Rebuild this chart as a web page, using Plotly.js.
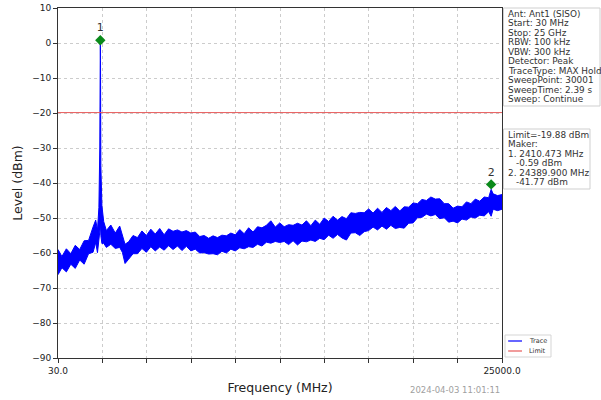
<!DOCTYPE html>
<html>
<head>
<meta charset="utf-8">
<script src="https://cdn.plot.ly/plotly-3.0.1.min.js"></script>
<style>html,body{margin:0;padding:0;background:#fff;}#chart{width:601px;height:400px;}</style>
</head>
<body>
<div id="chart"></div>
<script>
// Spectrum envelope (MHz, dBm): upper and lower edge of the trace band
const freqMHz = [30,250,500,750,1000,1250,1500,1750,2000,2150,2250,2330,2380,2400,2410.473,2420,2440,2500,2600,2750,
  3000,3250,3500,3650,3800,4000,4250,4500,4750,5000,5250,5500,5750,6000,6250,6500,6750,7000,7250,7500,
  7750,8000,8250,8500,8750,9000,9250,9500,9750,10000,10250,10500,10750,11000,11250,11500,11750,12000,12250,12500,
  12750,13000,13250,13500,13750,14000,14250,14500,14750,15000,15250,15500,15750,16000,16250,16500,16750,17000,17250,17500,
  17750,18000,18250,18500,18750,19000,19250,19500,19750,20000,20250,20500,20750,21000,21250,21500,21750,22000,22250,22500,
  22750,23000,23250,23500,23750,24000,24250,24389.9,24500,24750,25000];
const upperDbm = [-59.0,-61.0,-58.8,-60.2,-57.8,-59.0,-56.5,-56.4,-52.6,-50.6,-53.5,-47.0,-30.0,-5.0,0.8,-5.0,-35.0,-46.5,-51.0,-53.6,
  -52.0,-54.3,-52.3,-55.0,-57.5,-56.8,-55.0,-55.6,-53.7,-55.0,-53.2,-54.6,-53.0,-54.8,-53.1,-53.8,-53.4,-54.0,-53.6,-54.3,
  -54.0,-55.3,-55.0,-55.8,-55.1,-55.6,-54.9,-55.1,-54.3,-54.8,-53.3,-54.5,-52.8,-54.0,-52.5,-52.8,-52.1,-50.8,-52.6,-51.4,
  -52.5,-51.9,-52.1,-51.5,-52.0,-50.8,-52.2,-50.6,-51.8,-50.0,-51.0,-49.5,-50.6,-49.6,-50.2,-48.5,-48.7,-48.4,-48.5,-47.4,
  -48.6,-47.2,-48.4,-47.0,-47.9,-46.7,-48.0,-46.8,-46.9,-45.7,-45.9,-44.7,-45.0,-44.0,-44.6,-44.5,-45.9,-45.9,-47.2,-46.6,
  -46.8,-45.4,-45.9,-44.6,-45.2,-44.0,-44.2,-41.8,-43.1,-43.6,-43.3];
const lowerDbm = [-66.2,-64.2,-65.4,-63.2,-64.4,-62.0,-63.2,-60.2,-59.8,-57.0,-59.9,-57.0,-54.0,-53.0,-50.0,-53.0,-55.0,-57.3,-57.2,-58.4,
  -57.5,-58.7,-58.4,-59.8,-63.0,-61.8,-60.2,-60.2,-58.7,-59.8,-58.2,-59.4,-58.3,-59.2,-57.9,-59.0,-58.0,-59.3,-58.1,-59.4,
  -58.9,-60.0,-59.9,-60.3,-60.2,-60.5,-59.5,-60.0,-58.9,-59.4,-58.5,-58.8,-58.2,-58.4,-57.5,-58.0,-56.9,-57.2,-56.7,-57.0,
  -56.7,-57.6,-56.5,-57.7,-56.6,-56.8,-56.3,-56.7,-55.8,-56.2,-54.9,-55.8,-54.7,-55.7,-56.3,-54.3,-54.2,-55.0,-53.9,-53.6,
  -52.6,-53.4,-52.3,-53.2,-52.1,-53.0,-52.7,-52.9,-51.5,-51.4,-49.9,-49.8,-48.9,-49.4,-49.0,-50.2,-49.9,-51.2,-50.9,-51.4,
  -50.3,-50.6,-49.7,-50.0,-49.2,-49.4,-48.2,-49.5,-47.5,-47.9,-47.5];

// Limit line and markers
const limitDbm = -19.88;
const freqStart = 30, freqStop = 25000;
const markerFreq = [2410.473, 24389.9];
const markerLevel = [0.8, -40.4];
const markerLabel = ['1', '2'];

// Axis ticks
const xTickVals = [30, 2527, 5024, 7521, 10018, 12515, 15012, 17509, 20006, 22503, 25000];
const xTickText = ['30.0', '', '', '', '', '', '', '', '', '', '25000.0'];

const infoLines = ['Ant: Ant1 (SISO)', 'Start: 30 MHz', 'Stop: 25 GHz', 'RBW: 100 kHz', 'VBW: 300 kHz',
  'Detector: Peak', 'TraceType: MAX Hold', 'SweepPoint: 30001', 'SweepTime: 2.39 s', 'Sweep: Continue'];
const markerInfoLines = ['Limit=-19.88 dBm', 'Maker:', '1. 2410.473 MHz', '   -0.59 dBm', '2. 24389.900 MHz', '   -41.77 dBm'];
const timestamp = '2024-04-03 11:01:11';

// Pixel helpers for the layout (plot area 58..502 x 8..358)
const L = 58, R = 99, T = 8, B = 42, W = 601, H = 400;
const PW = W - L - R, PH = H - T - B;
const px = x => (x - L) / PW;
const py = y => (H - B - y) / PH;

const FONT = 'DejaVu Sans';
const BLUE = '#0000ff';
const RED = '#e85a5a';

const traces = [
  {x: freqMHz, y: lowerDbm, type: 'scatter', mode: 'lines', line: {color: BLUE, width: 1}, showlegend: false, hoverinfo: 'skip'},
  {x: freqMHz, y: upperDbm, type: 'scatter', mode: 'lines', line: {color: BLUE, width: 1}, fill: 'tonexty', fillcolor: BLUE, showlegend: false, hoverinfo: 'skip'},
  {x: [freqStart, freqStop], y: [limitDbm, limitDbm], type: 'scatter', mode: 'lines', line: {color: RED, width: 1}, showlegend: false},
  {x: markerFreq, y: markerLevel, type: 'scatter', mode: 'markers+text', text: markerLabel, textposition: 'top center',
   textfont: {family: FONT, size: 11, color: '#333'}, marker: {symbol: 'diamond', size: 8, color: '#0a8a1a'}, showlegend: false, cliponaxis: false}
];

const annotations = [];
infoLines.forEach((t, i) => annotations.push({xref: 'paper', yref: 'paper', x: px(506), y: py(14 + 9.44 * i), xanchor: 'left', yanchor: 'middle',
  text: t, showarrow: false, font: {family: FONT, size: 8.9, color: '#333'}}));
markerInfoLines.forEach((t, i) => annotations.push({xref: 'paper', yref: 'paper', x: px(t.startsWith('   ') ? 514 : 506), y: py(135 + 9.46 * i), xanchor: 'left', yanchor: 'middle',
  text: t.trim(), showarrow: false, font: {family: FONT, size: 8.9, color: '#333'}}));
annotations.push({xref: 'paper', yref: 'paper', x: px(502), y: py(390), xanchor: 'right', yanchor: 'middle', text: timestamp, showarrow: false,
  font: {family: FONT, size: 8.5, color: '#a0a0a0'}});
// legend labels
annotations.push({xref: 'paper', yref: 'paper', x: px(527), y: py(341), xanchor: 'left', yanchor: 'middle', text: 'Trace', showarrow: false, font: {family: FONT, size: 6.5, color: '#333'}});
annotations.push({xref: 'paper', yref: 'paper', x: px(527), y: py(351), xanchor: 'left', yanchor: 'middle', text: 'Limit', showarrow: false, font: {family: FONT, size: 6.5, color: '#333'}});

const shapes = [
  {type: 'rect', xref: 'paper', yref: 'paper', x0: px(503.5), x1: px(600), y0: py(8), y1: py(106), line: {color: '#cfcfcf', width: 1}},
  {type: 'rect', xref: 'paper', yref: 'paper', x0: px(503.5), x1: px(590), y0: py(129), y1: py(189), line: {color: '#cfcfcf', width: 1}},
  {type: 'rect', xref: 'paper', yref: 'paper', x0: px(505), x1: px(551), y0: py(335), y1: py(357), line: {color: '#d5d5d5', width: 1}, fillcolor: 'rgba(255,255,255,0.9)'},
  {type: 'line', xref: 'paper', yref: 'paper', x0: px(508), x1: px(522), y0: py(341), y1: py(341), line: {color: BLUE, width: 1.2}},
  {type: 'line', xref: 'paper', yref: 'paper', x0: px(508), x1: px(522), y0: py(351), y1: py(351), line: {color: RED, width: 1.2}}
];

const layout = {
  width: W, height: H,
  margin: {l: L, r: R, t: T, b: B},
  paper_bgcolor: '#fff', plot_bgcolor: '#fff',
  font: {family: FONT, color: '#222'},
  showlegend: false,
  xaxis: {
    range: [freqStart, freqStop], tickmode: 'array', tickvals: xTickVals, ticktext: xTickText,
    ticks: 'outside', ticklen: 4, tickcolor: '#333', showline: true, linecolor: '#333', linewidth: 1, mirror: true,
    showgrid: true, gridcolor: '#cccccc', griddash: 'dot', gridwidth: 1, zeroline: false,
    tickfont: {family: FONT, size: 9, color: '#222'},
    title: {text: 'Frequency (MHz)', font: {family: FONT, size: 12.5, color: '#222'}, standoff: 8}
  },
  yaxis: {
    range: [-90, 10], dtick: 10, tick0: 0,
    ticks: 'outside', ticklen: 4, tickcolor: '#333', showline: true, linecolor: '#333', linewidth: 1, mirror: true,
    showgrid: true, gridcolor: '#cccccc', griddash: 'dot', gridwidth: 1, zeroline: false,
    tickfont: {family: FONT, size: 9, color: '#222'},
    title: {text: 'Level (dBm)', font: {family: FONT, size: 12.5, color: '#222'}, standoff: 6}
  },
  annotations: annotations,
  shapes: shapes
};

Plotly.newPlot('chart', traces, layout, {displayModeBar: false, staticPlot: true});
</script>
</body>
</html>
